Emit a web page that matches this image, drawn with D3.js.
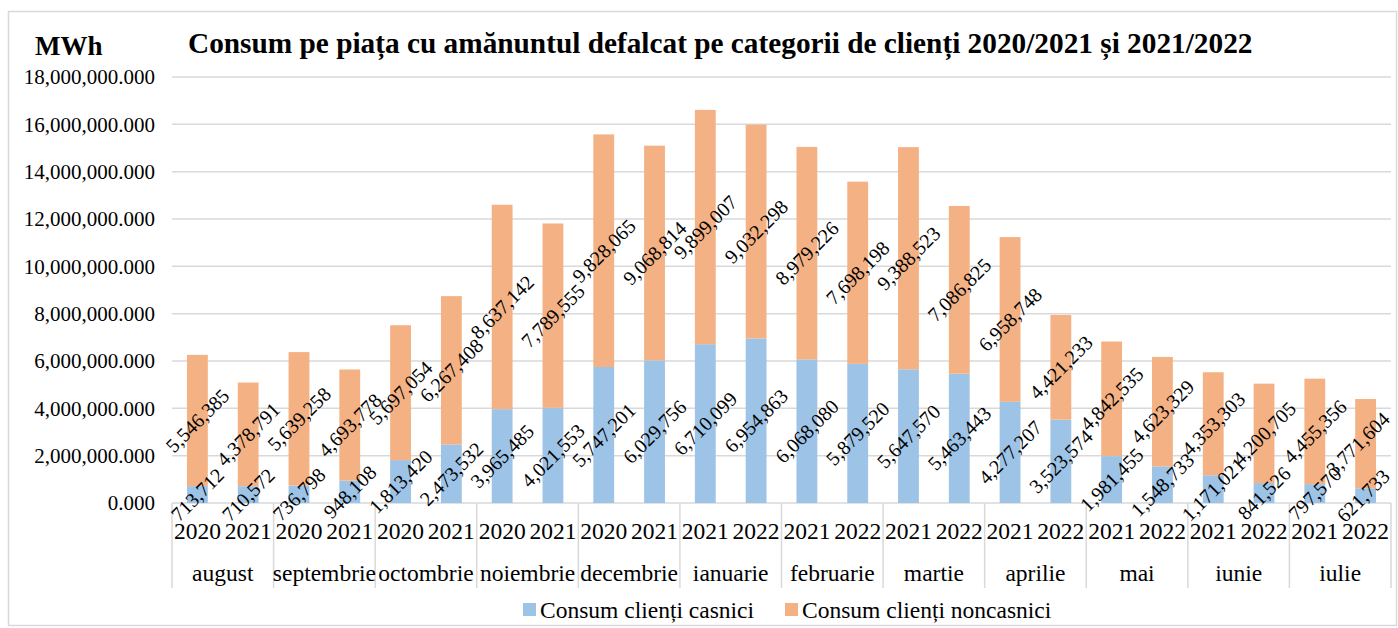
<!DOCTYPE html>
<html>
<head>
<meta charset="utf-8">
<script src="https://cdn.jsdelivr.net/npm/d3@7"></script>
<style>
  body { margin: 0; background: #fff; }
</style>
</head>
<body>
<div id="chart"></div>
<script>
const WIDTH = 1398, HEIGHT = 628;
const FONT = "'Liberation Serif', 'DejaVu Serif', serif";

const months = ["august", "septembrie", "octombrie", "noiembrie", "decembrie", "ianuarie",
    "februarie", "martie", "aprilie", "mai", "iunie", "iulie"];
const years = [
    ["2020", "2021"], ["2020", "2021"], ["2020", "2021"], ["2020", "2021"], ["2020", "2021"],
    ["2021", "2022"], ["2021", "2022"], ["2021", "2022"], ["2021", "2022"], ["2021", "2022"],
    ["2021", "2022"], ["2021", "2022"]
];
// two values per month: first year, second year
const casnici = [
    713712, 710572, 736798, 948108, 1813420, 2473532, 3965485, 4021553,
    5747201, 6029756, 6710099, 6954863, 6068080, 5879520, 5647570, 5463443,
    4277207, 3523574, 1981455, 1548733, 1171021, 841526, 797570, 621733
];
const noncasnici = [
    5546385, 4378791, 5639258, 4693778, 5697054, 6267408, 8637142, 7789555,
    9828065, 9068814, 9899007, 9032298, 8979226, 7698198, 9388523, 7086825,
    6958748, 4421233, 4842535, 4623329, 4353303, 4200705, 4455356, 3771604
];
const yTicks = [0, 2e6, 4e6, 6e6, 8e6, 10e6, 12e6, 14e6, 16e6, 18e6];
const seriesNames = ["Consum clienți casnici", "Consum clienți noncasnici"];
const COLORS = ["#9dc3e6", "#f4b183"];

const LEFT = 172, RIGHT = 1391, BASE = 503, TOP = 77;

const rows = casnici.map((c, i) => ({
    key: i, month: months[Math.floor(i / 2)], year: years[Math.floor(i / 2)][i % 2],
    casnici: c, noncasnici: noncasnici[i]
}));

const svg = d3.select("#chart").append("svg")
    .attr("width", WIDTH)
    .attr("height", HEIGHT)
    .attr("font-family", FONT)
    .style("font-family", FONT)

// outer frame
svg.append("rect")
    .attr("x", 8.5).attr("y", 11.5)
    .attr("width", 1388).attr("height", 614)
    .attr("fill", "none").attr("stroke", "#d9d9d9").attr("stroke-width", 1.5)

const x = d3.scaleBand()
    .domain(rows.map(d => d.key))
    .range([LEFT, RIGHT])
    .paddingInner(0.59)
    .paddingOuter(0.295)
const y = d3.scaleLinear().domain([0, 18e6]).range([BASE, TOP])

// gridlines
svg.append("g").selectAll("line").data(yTicks).enter().append("line")
    .attr("x1", LEFT).attr("x2", RIGHT)
    .attr("y1", d => y(d)).attr("y2", d => y(d))
    .attr("stroke", "#d9d9d9").attr("stroke-width", 1.5)

// y tick labels
const fmtTick = d3.format(",.3f");
svg.append("g").selectAll("text").data(yTicks).enter().append("text")
    .attr("x", 155).attr("y", d => y(d))
    .attr("dy", "0.35em")
    .attr("text-anchor", "end")
    .style("font-size", "21px")
    .text(d => fmtTick(d))

// stacked bars
const stack = d3.stack().keys(["casnici", "noncasnici"]);
const layers = stack(rows);
const layer = svg.append("g").selectAll("g").data(layers).enter().append("g")
    .attr("fill", (d, i) => COLORS[i])
layer.selectAll("rect").data(d => d).enter().append("rect")
    .attr("x", d => x(d.data.key))
    .attr("width", x.bandwidth())
    .attr("y", d => y(d[1]))
    .attr("height", d => y(d[0]) - y(d[1]))

// category axis: separators, years, months
const step = x.step();
const groupW = step * 2;
const sep = svg.append("g");
d3.range(months.length + 1).forEach(i => {
    sep.append("line")
        .attr("x1", LEFT + i * groupW).attr("x2", LEFT + i * groupW)
        .attr("y1", BASE).attr("y2", 588)
        .attr("stroke", "#d9d9d9").attr("stroke-width", 1.5)
});
svg.append("g").selectAll("text").data(rows).enter().append("text")
    .attr("x", d => x(d.key) + x.bandwidth() / 2)
    .attr("y", 539)
    .attr("text-anchor", "middle")
    .style("font-size", "23.5px")
    .text(d => d.year)
svg.append("g").selectAll("text").data(months).enter().append("text")
    .attr("x", (d, i) => LEFT + i * groupW + groupW / 2)
    .attr("y", 581)
    .attr("text-anchor", "middle")
    .style("font-size", "23.5px")
    .text(d => d)

// data labels, kept inside the plot on the right side
const fmt = d3.format(",");
layers.forEach(l => {
    svg.append("g").selectAll("text").data(l).enter().append("text")
        .attr("text-anchor", "middle")
        .attr("dy", "0.35em")
        .style("font-size", "20px")
        .text(d => fmt(d[1] - d[0]))
        .attr("transform", function (d) {
            const half = (this.getComputedTextLength() + 14) * Math.SQRT1_2 / 2;
            const cx = Math.min(x(d.data.key) + x.bandwidth() / 2, RIGHT - half);
            const cy = (y(d[0]) + y(d[1])) / 2;
            return `translate(${cx},${cy}) rotate(-45)`;
        })
});

// titles
svg.append("text")
    .attr("x", 35).attr("y", 55)
    .style("font-size", "27px").style("font-weight", "bold")
    .text("MWh")
svg.append("text")
    .attr("x", 188).attr("y", 53)
    .style("font-size", "29.3px").style("font-weight", "bold")
    .text("Consum pe piața cu amănuntul defalcat pe categorii de clienți 2020/2021 și 2021/2022")

// legend
const legendX = [523, 785];
const legend = svg.append("g").selectAll("g").data(seriesNames).enter().append("g")
    .attr("transform", (d, i) => `translate(${legendX[i]},0)`)
legend.append("rect")
    .attr("x", 0).attr("y", 603)
    .attr("width", 13).attr("height", 13)
    .attr("fill", (d, i) => COLORS[i])
legend.append("text")
    .attr("x", 17).attr("y", 618)
    .style("font-size", "23.5px")
    .text(d => d)
</script>
</body>
</html>
